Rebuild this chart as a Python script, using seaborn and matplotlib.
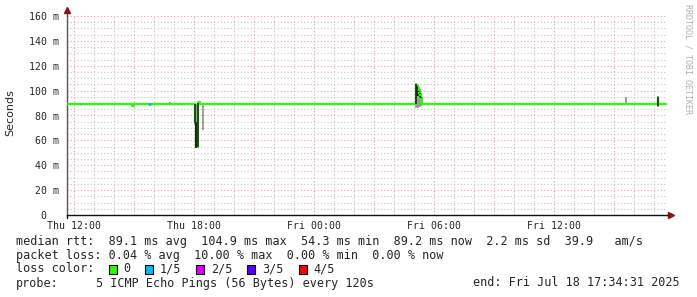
import pandas as pd
import matplotlib
matplotlib.use("Agg")
import matplotlib.pyplot as plt
import matplotlib.dates as mdates
from matplotlib.patches import Rectangle
import seaborn as sns

# median rtt in ms (step series) and number of lost pings (of 5)
med_time = ["2025-07-17 11:38", "2025-07-17 12:16", "2025-07-17 12:20", "2025-07-17 14:54",
            "2025-07-17 15:00", "2025-07-17 15:42", "2025-07-17 15:50", "2025-07-17 18:00",
            "2025-07-17 18:02", "2025-07-17 18:06", "2025-07-17 18:10", "2025-07-17 18:12",
            "2025-07-17 18:16", "2025-07-18 05:04", "2025-07-18 05:06", "2025-07-18 05:08",
            "2025-07-18 05:10", "2025-07-18 05:12", "2025-07-18 05:14", "2025-07-18 05:16",
            "2025-07-18 05:18", "2025-07-18 05:20", "2025-07-18 05:22", "2025-07-18 05:24",
            "2025-07-18 17:10", "2025-07-18 17:12", "2025-07-18 17:34"]
med_rtt = [89.1, 89.1, 89.1, 88.0,
           89.1, 89.1, 89.1, 89.1,
           74.5, 54.3, 87.0, 91.0,
           89.1, 89.1, 104.9, 103.5,
           99.0, 96.0, 100.5, 95.5,
           97.5, 94.0, 91.0, 89.1,
           94.3, 89.1, 89.2]
med_loss = [0, 1, 0, 0,
            0, 1, 0, 0,
            0, 0, 0, 0,
            0, 0, 0, 0,
            0, 0, 0, 0,
            0, 0, 0, 0,
            0, 0, 0]

# smoke: spread of the single pings (light) and dense core (dark)
smoke_time = ["2025-07-17 11:38", "2025-07-17 16:46", "2025-07-17 18:02", "2025-07-17 18:04",
              "2025-07-17 18:06", "2025-07-17 18:10", "2025-07-17 18:26", "2025-07-18 05:06",
              "2025-07-18 05:08", "2025-07-18 05:10", "2025-07-18 05:12", "2025-07-18 05:14",
              "2025-07-18 05:16", "2025-07-18 05:18", "2025-07-18 05:20", "2025-07-18 05:22",
              "2025-07-18 15:35", "2025-07-18 17:10"]
smoke_lo = [89.0, 89.0, 72.0, 54.0,
            54.0, 54.0, 68.0, 86.0,
            88.0, 87.0, 86.0, 88.0,
            87.0, 88.0, 88.0, 89.0,
            89.0, 87.0]
smoke_hi = [96.5, 90.5, 90.0, 89.0,
            75.0, 91.0, 90.0, 106.5,
            105.0, 104.0, 101.0, 103.0,
            101.0, 100.0, 97.0, 93.0,
            94.6, 96.0]
core_lo = [89.0, 89.0, 74.0, 55.0,
           54.0, 55.0, 89.0, 89.0,
           96.0, 99.0, 96.0, 99.0,
           95.0, 97.0, 94.0, 91.0,
           89.0, 88.0]
core_hi = [89.0, 89.0, 89.0, 75.0,
           74.0, 90.0, 89.0, 105.0,
           104.0, 100.0, 97.0, 100.0,
           96.0, 98.0, 95.0, 91.0,
           89.0, 95.0]

loss_labels = ["0", "1/5", "2/5", "3/5", "4/5"]
loss_colors = ["#26ff00", "#00b8ff", "#dd00ff", "#5500ff", "#ff0000"]

rtt_stats = [89.1, 104.9, 54.3, 89.2, 2.2]
am_s = 39.9
loss_stats = [0.04, 10.00, 0.00, 0.00]
probe_text = "5 ICMP Echo Pings (56 Bytes) every 120s"
end_text = "end: Fri Jul 18 17:34:31 2025"

x_start = pd.Timestamp("2025-07-17 11:38")
x_end = pd.Timestamp("2025-07-18 17:38")

sns.set_style("white")
plt.rcParams["font.family"] = ["DejaVu Sans Mono", "DejaVu Sans"]

fig = plt.figure(figsize=(6.97, 2.97), dpi=100)
ax = fig.add_axes([67 / 697, 82 / 297, 600 / 697, 199 / 297])

mt = pd.to_datetime(med_time)
st = pd.to_datetime(smoke_time)

# smoke first
ax.vlines(st, smoke_lo, smoke_hi, color="#999999", lw=1.3, zorder=2)

df = pd.DataFrame({"time": mt, "rtt": med_rtt})
sns.lineplot(data=df, x="time", y="rtt", ax=ax, color=loss_colors[0],
             lw=1.6, drawstyle="steps-post", zorder=3)

for i in range(len(mt) - 1):
    if med_loss[i] > 0:
        ax.hlines(med_rtt[i], mt[i], mt[i + 1], color=loss_colors[med_loss[i]], lw=1.8, zorder=4)

ax.vlines(st, core_lo, core_hi, color="#1a1a1a", lw=1.1, zorder=5)

ax.set_xlim(x_start, x_end)
ax.set_ylim(0, 160)
ax.set_xlabel("")
ax.set_ylabel("")

# grid
ax.xaxis.set_major_locator(mdates.HourLocator(byhour=[0, 6, 12, 18]))
ax.xaxis.set_major_formatter(mdates.DateFormatter("%a %H:%M"))
ax.xaxis.set_minor_locator(mdates.HourLocator())
ax.set_yticks(range(0, 161, 20))
ax.set_yticklabels(["0  "] + [f"{v} m" for v in range(20, 161, 20)])
ax.set_yticks(range(0, 161, 5), minor=True)

dot = (0, (1, 2))
for h in pd.date_range("2025-07-17 12:00", "2025-07-18 17:00", freq="h"):
    if h.hour % 3 == 0:
        ax.axvline(h, color="#eea0a0", lw=0.8, ls=dot, zorder=1)
    else:
        ax.axvline(h, color="#c4c4c4", lw=0.8, ls=dot, zorder=1)
for v in range(5, 161, 5):
    if v % 20 == 0:
        ax.axhline(v, color="#eea0a0", lw=0.8, ls=dot, zorder=1)
    else:
        ax.axhline(v, color="#c4c4c4", lw=0.8, ls=dot, zorder=1)

ax.tick_params(axis="x", which="major", length=3, color="#e09090", pad=1, labelsize=7.1)
ax.tick_params(axis="x", which="minor", length=0)
ax.tick_params(axis="y", which="major", length=3, color="#909090", pad=3, labelsize=7.1)
ax.tick_params(axis="y", which="minor", length=0)

for s in ["top", "right"]:
    ax.spines[s].set_visible(False)
ax.spines["left"].set_color("#555555")
ax.spines["bottom"].set_color("#111111")
ax.spines["left"].set_linewidth(1.0)
ax.spines["bottom"].set_linewidth(1.0)

# axis arrows
ax.plot([0, 0], [1.0, 1.025], transform=ax.transAxes, color="#555555", lw=1.0, clip_on=False)
ax.plot([0], [1.03], transform=ax.transAxes, marker="^", color="#8b1010", ms=5, clip_on=False)
ax.plot([0, 0], [0, -0.015], transform=ax.transAxes, color="#111111", lw=1.0, clip_on=False)
ax.plot([1.0, 1.004], [0, 0], transform=ax.transAxes, color="#111111", lw=1.0, clip_on=False)
ax.plot([1.007], [0], transform=ax.transAxes, marker=">", color="#8b1010", ms=5, clip_on=False)

fig.text(10 / 697, 1 - 113 / 297, "Seconds", rotation=90, ha="center", va="center",
         family="DejaVu Sans", fontsize=8)
fig.text(688 / 697, 1 - 4 / 297, "RRDTOOL / TOBI OETIKER", rotation=270, ha="center", va="top",
         fontsize=6, color="#b0b0b0")

# legend block
fs = 8.5
lx = 16 / 697
rows = [241, 255, 269, 283]
line1 = ("median rtt:  %.1f ms avg  %.1f ms max  %.1f ms min  %.1f ms now  %.1f ms sd  %.1f   am/s"
         % (rtt_stats[0], rtt_stats[1], rtt_stats[2], rtt_stats[3], rtt_stats[4], am_s))
line2 = ("packet loss: %.2f %% avg  %.2f %% max  %.2f %% min  %.2f %% now"
         % (loss_stats[0], loss_stats[1], loss_stats[2], loss_stats[3]))
fig.text(lx, 1 - rows[0] / 297, line1, va="center", fontsize=fs)
fig.text(lx, 1 - rows[1] / 297, line2, va="center", fontsize=fs)
fig.text(lx, 1 - rows[2] / 297, "loss color:", va="center", fontsize=fs)
sq_x = [109, 145, 196, 247, 299]
lab_x = [123, 160, 211, 262, 313]
for i in range(len(loss_labels)):
    fig.patches.append(Rectangle((sq_x[i] / 697, 1 - (rows[2] + 4.5) / 297), 8 / 697, 9 / 297,
                                 facecolor=loss_colors[i], edgecolor="black", lw=0.8,
                                 transform=fig.transFigure, figure=fig))
    fig.text(lab_x[i] / 697, 1 - rows[2] / 297, loss_labels[i], va="center", fontsize=fs)
fig.text(lx, 1 - rows[3] / 297, "probe:", va="center", fontsize=fs)
fig.text(96 / 697, 1 - rows[3] / 297, probe_text, va="center", fontsize=fs)
fig.text(680 / 697, 1 - rows[3] / 297, end_text, va="center", ha="right", fontsize=fs)

fig.savefig("out.png", dpi=100)
